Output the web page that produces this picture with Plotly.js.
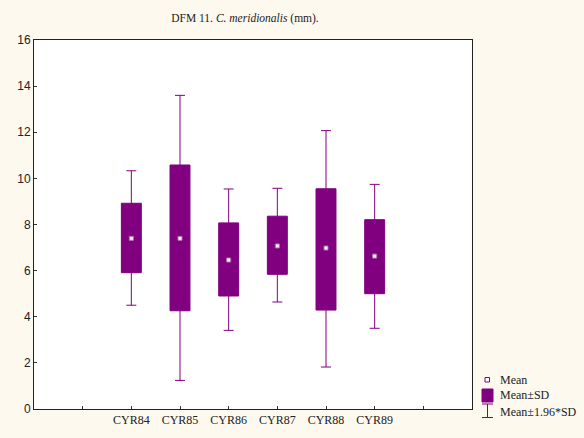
<!DOCTYPE html>
<html>
<head>
<meta charset="utf-8">
<script src="https://cdn.plot.ly/plotly-3.0.1.min.js"></script>
<style>
html,body{margin:0;padding:0;background:#fdf9ef;}
#chart{width:584px;height:438px;}
</style>
</head>
<body>
<div id="chart"></div>
<script>
// Data
var categories = ['CYR84', 'CYR85', 'CYR86', 'CYR87', 'CYR88', 'CYR89'];
var means      = [7.40, 7.40, 6.46, 7.07, 6.98, 6.63];
var sdLow      = [5.91, 4.26, 4.90, 5.84, 4.29, 5.00];
var sdHigh     = [8.92, 10.58, 8.07, 8.36, 9.55, 8.21];
var ciLow      = [4.50, 1.24, 3.41, 4.64, 1.82, 3.50];
var ciHigh     = [10.33, 13.60, 9.54, 9.57, 12.07, 9.74];
var yTicks     = [0, 2, 4, 6, 8, 10, 12, 14, 16];

var purple = '#800080';
var xs = categories.map(function(c, i){ return i; });

// axis ticks: positions -2..7, labels only at categories
var tickVals = [], tickText = [];
for (var t = -1; t <= 6; t++) {
  tickVals.push(t);
  tickText.push(t >= 0 && t < categories.length ? categories[t] : '');
}

var boxTrace = {
  type: 'box',
  x: xs,
  q1: sdLow,
  median: means,
  q3: sdHigh,
  lowerfence: ciLow,
  upperfence: ciHigh,
  boxpoints: false,
  width: 0.41,
  whiskerwidth: 0.5,
  fillcolor: purple,
  line: {color: purple, width: 1},
  showlegend: false,
  hoverinfo: 'skip'
};

var meanTrace = {
  type: 'scatter',
  mode: 'markers',
  x: xs,
  y: means,
  marker: {symbol: 'square', size: 4, color: '#ffffff', line: {color: '#b070b0', width: 1}},
  showlegend: false,
  hoverinfo: 'skip'
};

// plot-area pixel geometry (for legend placement)
var L = 34, R = 472, T = 40, B = 409;
function px(x){ return (x - L) / (R - L); }
function py(y){ return (B - y) / (B - T); }

var serif = 'Liberation Serif, Times New Roman, serif';

var shapes = [
  // Mean icon
  {type:'rect', xref:'paper', yref:'paper', x0:px(485), x1:px(489.5), y0:py(382), y1:py(377.5),
   fillcolor:'#ffffff', line:{color:purple, width:1}},
  // Mean±SD icon
  {type:'rect', xref:'paper', yref:'paper', x0:px(482), x1:px(493), y0:py(402), y1:py(389),
   fillcolor:purple, line:{color:purple, width:1}},
  // whisker icon
  {type:'line', xref:'paper', yref:'paper', x0:px(487.5), x1:px(487.5), y0:py(417.5), y1:py(404),
   line:{color:purple, width:1}},
  {type:'line', xref:'paper', yref:'paper', x0:px(482), x1:px(493), y0:py(404), y1:py(404),
   line:{color:purple, width:1}},
  {type:'line', xref:'paper', yref:'paper', x0:px(482), x1:px(493), y0:py(417.5), y1:py(417.5),
   line:{color:purple, width:1}}
];

var legendItems = ['Mean', 'Mean±SD', 'Mean±1.96*SD'];
var legendY = [380, 395, 411.5];
var annotations = legendItems.map(function(txt, i){
  return {xref:'paper', yref:'paper', x:px(498), y:py(legendY[i]), xanchor:'left', yanchor:'middle',
          text: txt, showarrow:false, font:{family: serif, size: 12, color:'#222222'}};
});

var layout = {
  width: 584, height: 438,
  margin: {l: L, r: 584 - R, t: T, b: 438 - B, pad: 0},
  paper_bgcolor: '#fdf9ef',
  plot_bgcolor: '#ffffff',
  title: {
    text: 'DFM 11. <i>C. meridionalis</i> (mm).',
    font: {family: serif, size: 11.5, color: '#222222'},
    x: 245 / 584, xanchor: 'center', y: 1 - 18 / 438, yanchor: 'middle'
  },
  xaxis: {
    range: [-2, 7],
    tickmode: 'array', tickvals: tickVals, ticktext: tickText,
    ticks: 'inside', ticklen: 3, tickcolor: '#333333',
    showgrid: false, zeroline: false,
    showline: true, linecolor: '#222222', linewidth: 1, mirror: true,
    tickfont: {family: serif, size: 12, color: '#222222'}
  },
  yaxis: {
    range: [0, 16],
    tickmode: 'array', tickvals: yTicks,
    ticks: 'inside', ticklen: 3, tickcolor: '#333333',
    showgrid: false, zeroline: false,
    showline: true, linecolor: '#222222', linewidth: 1, mirror: true,
    tickfont: {family: 'Liberation Sans, Arial, sans-serif', size: 12, color: '#222222'}
  },
  shapes: shapes,
  annotations: annotations,
  showlegend: false
};

Plotly.newPlot('chart', [boxTrace, meanTrace], layout, {displayModeBar: false, staticPlot: true});
</script>
</body>
</html>
